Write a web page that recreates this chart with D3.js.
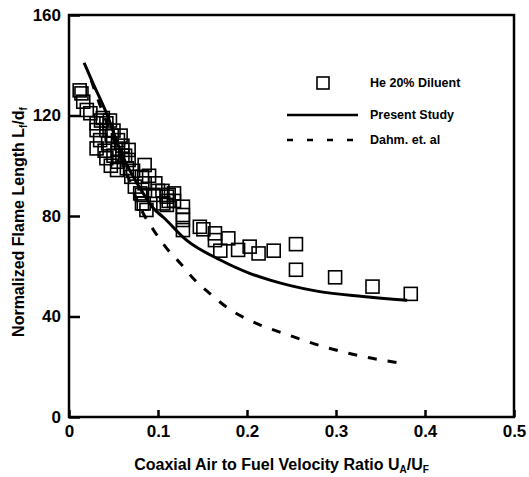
<!DOCTYPE html>
<html><head>
<meta charset="utf-8">
<script src="https://d3js.org/d3.v7.min.js"></script>
<style>
  body { margin: 0; background: #fff; }
  text { font-family: Arial, "Liberation Sans", sans-serif; font-weight: bold; fill: #000; }
</style>
</head>
<body>
<svg id="svg1" width="529" height="477"></svg>
<script>
// He 20% diluent measurements (velocity ratio, L/d)
const heX = [0.012,0.014,0.016,0.020,0.024,0.031,0.042,0.031,0.042,0.035,0.044,0.031,0.055,0.055,0.042,0.055,0.067,0.067,0.054,0.065,
             0.085,0.082,0.085,0.070,0.097,0.082,0.082,0.110,0.110,0.128,0.128,0.074,0.080,0.084,0.095,0.087,0.112,0.106,0.128,0.128,
             0.147,0.151,0.164,0.164,0.179,0.170,0.190,0.203,0.213,0.230,0.255,0.255,0.299,0.341,0.384,
             0.038,0.046,0.048,0.060,0.050,0.040,0.060,0.105,0.112,
             0.036,0.050,0.058,0.063,0.047,0.072,0.090,0.100,0.118,0.118];
const heY = [130,128.8,125.5,122.2,120.9,116.9,116.9,114.2,114.2,110.2,108.9,106.9,110.2,106.3,103,101.6,106.3,102.3,98.3,99,
             100.3,95.6,93,95.6,93,88.4,85,87.7,84.4,83.7,80.4,91.7,89,85,88.4,82.4,88.4,85,78.4,74.4,
             75.7,74.7,73.1,70.4,71.1,66.2,66.5,67.8,65.1,66.2,68.8,58.6,55.6,51.9,49,
             119,118,112,104,104,106,108,90,86,
             118,114,112,104,100,98,96,90,89,86];

// present study curve
const presX = [0.017,0.0255,0.042,0.06,0.08,0.095,0.106,0.132,0.17,0.203,0.226,0.25,0.28,0.33,0.38];
const presY = [141,134,121,104,91,83,79.5,70.4,62.5,57.2,54.5,52.2,50,48,46.5];

// Dahm et al. curve
const dahmX = [0.025,0.035,0.045,0.055,0.065,0.072,0.085,0.095,0.11,0.125,0.14,0.158,0.18,0.215,0.241,0.286,0.331,0.379];
const dahmY = [134,124,115,106,97,90,80,74.4,67,61.2,55,49.2,43,36.6,33.3,28,24,21.1];

const xTicks = [0,0.1,0.2,0.3,0.4,0.5];
const yTicks = [0,40,80,120,160];

const svg = d3.select("#svg1");
const m = {left: 69, top: 15, right: 15, bottom: 60};
const W = 529 - m.left - m.right, H = 477 - m.top - m.bottom;

const x = d3.scaleLinear().domain([0,0.5]).range([0,W]);
const y = d3.scaleLinear().domain([0,160]).range([H,0]);

const g = svg.append("g").attr("transform", `translate(${m.left},${m.top})`);

// data first, frame on top
const line = d3.line().x(d => x(d[0])).y(d => y(d[1])).curve(d3.curveMonotoneX);

g.append("path").datum(d3.zip(dahmX, dahmY))
  .attr("d", line).attr("fill","none").attr("stroke","#000")
  .attr("stroke-width",3).attr("stroke-dasharray","9,11");

g.append("path").datum(d3.zip(presX, presY))
  .attr("d", line).attr("fill","none").attr("stroke","#000").attr("stroke-width",3);

const s = 13;
g.selectAll("rect.pt").data(d3.zip(heX, heY)).join("rect")
  .attr("class","pt")
  .attr("x", d => x(d[0]) - s/2).attr("y", d => y(d[1]) - s/2)
  .attr("width", s).attr("height", s)
  .attr("fill","none").attr("stroke","#000").attr("stroke-width",1.6);

// frame
g.append("rect").attr("width",W).attr("height",H)
  .attr("fill","none").attr("stroke","#000").attr("stroke-width",2.5);

// axes with inward ticks
const xAxis = d3.axisBottom(x).tickValues(xTicks).tickSize(-7).tickPadding(8)
  .tickFormat(d => d === 0 ? "0" : d3.format(".1f")(d));
const gx = g.append("g").attr("transform",`translate(0,${H})`).call(xAxis);
gx.select(".domain").remove();
gx.selectAll("line").attr("stroke","#000").attr("stroke-width",2.5);
gx.selectAll("text").style("font-size","17px");

const yAxis = d3.axisLeft(y).tickValues(yTicks).tickSize(-11).tickPadding(8);
const gy = g.append("g").call(yAxis);
gy.select(".domain").remove();
gy.selectAll("line").attr("stroke","#000").attr("stroke-width",2.5);
gy.selectAll("text").style("font-size","17px");

// axis titles
const xt = svg.append("text").attr("x", m.left + W/2 - 10).attr("y", 470)
  .attr("text-anchor","middle").style("font-size","16px");
xt.append("tspan").text("Coaxial Air to Fuel Velocity Ratio U");
xt.append("tspan").attr("baseline-shift","-25%").style("font-size","10px").text("A");
xt.append("tspan").text("/U");
xt.append("tspan").attr("baseline-shift","-25%").style("font-size","10px").text("F");

const yt = svg.append("text").attr("transform",`translate(24,${m.top + H/2 + 6}) rotate(-90)`)
  .attr("text-anchor","middle").style("font-size","16px");
yt.append("tspan").text("Normalized Flame Length L");
yt.append("tspan").attr("baseline-shift","-25%").style("font-size","10px").text("f");
yt.append("tspan").text("/d");
yt.append("tspan").attr("baseline-shift","-25%").style("font-size","10px").text("f");

// legend
const lg = svg.append("g");
const legendNames = ["He 20% Diluent","Present Study","Dahm. et. al"];
const ly = [83, 115, 140];
lg.append("rect").attr("x",317).attr("y",ly[0]-6).attr("width",12).attr("height",12)
  .attr("fill","none").attr("stroke","#000").attr("stroke-width",1.6);
lg.append("line").attr("x1",287).attr("x2",358).attr("y1",ly[1]).attr("y2",ly[1])
  .attr("stroke","#000").attr("stroke-width",2.5);
lg.append("line").attr("x1",287).attr("x2",358).attr("y1",ly[2]).attr("y2",ly[2])
  .attr("stroke","#000").attr("stroke-width",2.5).attr("stroke-dasharray","6,14");
lg.selectAll("text").data(legendNames).join("text")
  .attr("x",370).attr("y",(d,i) => ly[i]).attr("dy","0.35em")
  .style("font-size","12.5px").text(d => d);
</script>
</body></html>
